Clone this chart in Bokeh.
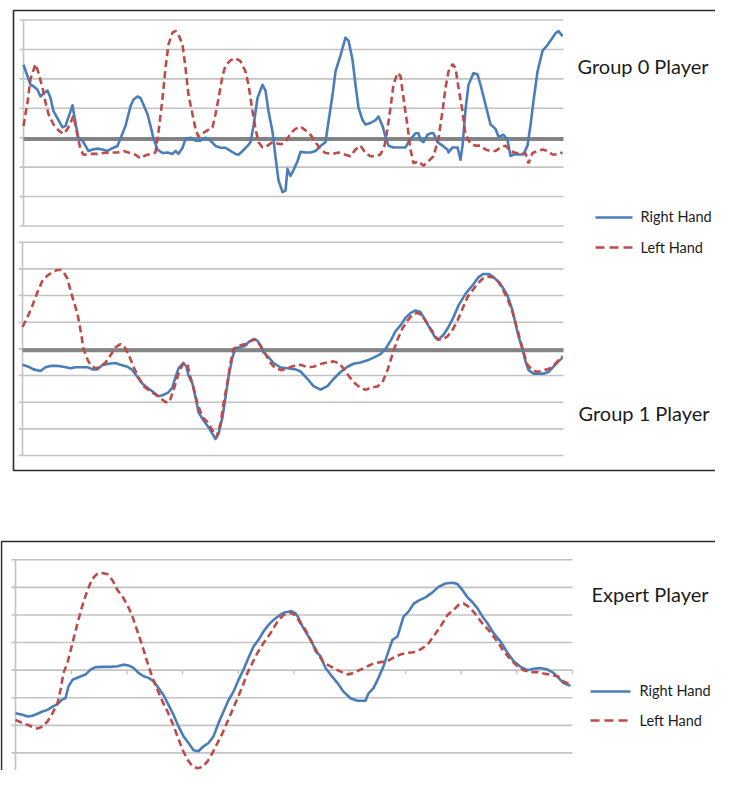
from bokeh.plotting import figure
from bokeh.models import Range1d
from bokeh.embed import file_html
from bokeh.resources import INLINE
from bokeh.core.properties import value

# ---------------- data (sample index, value in gridline units) ----------------
g0_right_t = [0, 7, 10, 14, 17, 20, 24, 27, 30, 35, 39, 42, 45, 49, 52, 55, 59, 62, 65, 69, 74, 79, 84, 90, 94, 97,
              102, 107, 110, 114, 117, 120, 124, 127, 130, 134, 139, 144, 149, 152, 155, 159, 162, 167, 172, 177,
              182, 187, 192, 197, 202, 207, 212, 215, 219, 224, 227, 230, 234, 239, 242, 245, 249, 252, 255, 259,
              262, 264, 267, 270, 274, 277, 282, 287, 292, 297, 302, 305, 309, 312, 317, 322, 325, 329, 332, 335,
              339, 342, 347, 352, 355, 359, 362, 365, 370, 377, 382, 385, 389, 392, 395, 397, 400, 404, 407, 410,
              414, 419, 424, 425, 429, 434, 437, 439, 442, 445, 450, 454, 457, 462, 467, 472, 475, 480, 484, 487,
              490, 495, 500, 504, 507, 510, 514, 519, 524, 529, 532, 535, 539]
g0_right_v = [2.48, 1.8, 1.75, 1.63, 1.4, 1.5, 1.6, 1.35, 0.9, 0.6, 0.35, 0.4, 0.7, 1.1, 0.5, -0.03, -0.1, -0.28,
              -0.45, -0.4, -0.37, -0.4, -0.45, -0.34, -0.28, -0.03, 0.4, 1.07, 1.3, 1.4, 1.35, 1.12, 0.8, 0.4, -0.03,
              -0.4, -0.52, -0.5, -0.55, -0.45, -0.55, -0.34, -0.04, 0.0, -0.1, -0.1, 0.0, -0.1, -0.28, -0.34, -0.34,
              -0.45, -0.55, -0.58, -0.45, -0.28, -0.15, 0.4, 1.35, 1.8, 1.6, 0.9, 0.2, -0.65, -1.45, -1.85, -1.8,
              -1.06, -1.3, -1.1, -0.8, -0.48, -0.5, -0.5, -0.45, -0.28, -0.15, 0.55, 1.45, 2.25, 2.8, 3.4, 3.3, 2.65,
              1.8, 1.02, 0.6, 0.45, 0.5, 0.6, 0.72, 0.4, 0.03, -0.27, -0.33, -0.33, -0.33, -0.15, 0.03, 0.15, 0.15,
              -0.08, -0.15, 0.1, 0.15, 0.15, -0.15, -0.27, -0.4, -0.5, -0.33, -0.33, -0.75, -0.27, 0.95, 1.8, 2.2,
              2.15, 1.8, 1.13, 0.45, 0.3, 0.03, 0.1, -0.08, -0.62, -0.57, -0.57, -0.57, -0.27, 0.42, 1.25, 2.25,
              2.95, 3.15, 3.4, 3.55, 3.62, 3.45]

g0_left_t = [0, 4, 7, 12, 15, 19, 22, 25, 30, 35, 40, 44, 47, 50, 54, 57, 60, 67, 74, 80, 87, 94, 100, 107, 112, 117,
             122, 127, 132, 135, 139, 142, 145, 149, 152, 155, 159, 162, 165, 169, 172, 175, 179, 184, 189, 192, 195,
             199, 202, 207, 212, 217, 222, 225, 229, 232, 235, 239, 244, 249, 254, 258, 262, 267, 272, 277, 282, 287,
             292, 297, 302, 309, 315, 322, 327, 332, 337, 342, 347, 352, 357, 361, 364, 367, 370, 374, 377, 380, 384,
             387, 390, 395, 400, 405, 410, 415, 419, 422, 425, 429, 432, 435, 439, 442, 447, 452, 457, 462, 467, 472,
             477, 482, 487, 492, 497, 502, 505, 509, 514, 519, 524, 529, 534, 539]
g0_left_v = [0.4, 1.2, 2.0, 2.5, 2.2, 1.7, 1.2, 0.8, 0.45, 0.25, 0.13, 0.3, 0.5, 0.75, 0.08, -0.4, -0.58, -0.55, -0.55,
             -0.52, -0.5, -0.5, -0.45, -0.52, -0.58, -0.7, -0.6, -0.55, -0.5, 0.2, 1.33, 2.37, 3.17, 3.57, 3.63, 3.5,
             3.17, 2.37, 1.45, 0.8, 0.3, 0.03, 0.15, 0.25, 0.35, 0.8, 1.33, 2.1, 2.45, 2.63, 2.7, 2.6, 2.25, 1.8, 0.9,
             0.3, -0.15, -0.33, -0.27, -0.15, -0.2, -0.22, -0.15, 0.15, 0.3, 0.38, 0.25, 0.1, -0.15, -0.4, -0.52,
             -0.55, -0.5, -0.58, -0.63, -0.4, -0.27, -0.52, -0.63, -0.63, -0.57, -0.27, 0.3, 1.02, 1.8, 2.2, 2.1,
             1.35, 0.4, -0.4, -0.87, -0.8, -0.95, -0.8, -0.63, -0.02, 0.9, 1.7, 2.25, 2.5, 2.37, 1.7, 0.9, 0.1, -0.2,
             -0.27, -0.27, -0.4, -0.45, -0.45, -0.33, -0.27, -0.45, -0.52, -0.52, -0.52, -0.87, -0.52, -0.45, -0.4,
             -0.45, -0.57, -0.57, -0.5]

g1_right_t = [0, 6, 11, 18, 23, 28, 35, 41, 48, 53, 60, 65, 70, 75, 80, 86, 93, 98, 105, 110, 115, 120, 125, 131,
              136, 141, 146, 150, 153, 156, 161, 164, 166, 170, 173, 176, 181, 186, 190, 193, 196, 200, 203, 206,
              210, 213, 218, 223, 226, 231, 235, 238, 241, 246, 251, 258, 265, 273, 278, 285, 291, 298, 305, 311,
              318, 325, 331, 338, 345, 351, 358, 363, 368, 373, 378, 383, 388, 393, 398, 403, 408, 413, 416, 421,
              426, 431, 436, 443, 450, 456, 461, 466, 471, 478, 485, 490, 493, 496, 500, 503, 506, 511, 516, 521,
              526, 531, 536, 540]
g1_right_v = [-0.6, -0.67, -0.77, -0.83, -0.69, -0.64, -0.64, -0.67, -0.73, -0.69, -0.69, -0.69, -0.77, -0.77, -0.6,
              -0.56, -0.53, -0.6, -0.67, -0.8, -1.06, -1.31, -1.46, -1.63, -1.78, -1.73, -1.63, -1.44, -1.06, -0.73,
              -0.53, -0.67, -1.0, -1.31, -1.81, -2.38, -2.69, -2.94, -3.19, -3.38, -3.19, -2.56, -1.81, -1.06,
              -0.31, 0.03, 0.06, 0.12, 0.25, 0.37, 0.31, 0.12, -0.13, -0.31, -0.53, -0.7, -0.73, -0.77, -0.85,
              -1.13, -1.4, -1.53, -1.4, -1.13, -0.87, -0.67, -0.56, -0.51, -0.43, -0.33, -0.2, 0.0, 0.3, 0.66,
              0.88, 1.16, 1.34, 1.44, 1.38, 1.06, 0.72, 0.41, 0.35, 0.53, 0.82, 1.19, 1.63, 2.06, 2.38, 2.69,
              2.81, 2.81, 2.69, 2.44, 2.0, 1.44, 0.94, 0.47, 0.0, -0.47, -0.8, -0.93, -0.93, -0.93, -0.87, -0.67,
              -0.47, -0.33]

g1_left_t = [0, 5, 10, 15, 20, 25, 30, 35, 38, 41, 45, 48, 51, 55, 58, 61, 65, 68, 73, 78, 83, 88, 93, 98, 102, 106,
             111, 116, 121, 128, 135, 141, 145, 148, 151, 156, 161, 165, 168, 171, 175, 180, 185, 190, 194, 198, 201,
             205, 208, 211, 216, 223, 228, 233, 238, 243, 248, 253, 259, 265, 271, 278, 285, 291, 298, 305, 311, 316,
             321, 326, 331, 338, 343, 348, 355, 360, 365, 370, 375, 380, 385, 390, 395, 400, 405, 410, 415, 420, 425,
             430, 435, 440, 445, 450, 455, 460, 465, 470, 475, 480, 485, 490, 495, 500, 505, 510, 515, 520, 525, 530,
             535, 540]
g1_left_v = [0.82, 1.19, 1.63, 2.13, 2.56, 2.75, 2.88, 2.96, 2.96, 2.88, 2.63, 2.19, 1.81, 1.31, 0.71, 0.0, -0.4, -0.6,
             -0.73, -0.69, -0.51, -0.24, 0.06, 0.18, 0.06, -0.2, -0.67, -1.07, -1.4, -1.6, -1.76, -1.94, -2.03, -1.88,
             -1.54, -0.93, -0.53, -0.6, -1.07, -1.46, -2.06, -2.56, -2.75, -3.06, -3.31, -2.81, -2.06, -1.25, -0.53,
             0.0, 0.12, 0.18, 0.29, 0.35, 0.12, -0.2, -0.53, -0.73, -0.8, -0.73, -0.64, -0.6, -0.69, -0.67, -0.57,
             -0.51, -0.47, -0.53, -0.73, -1.0, -1.25, -1.46, -1.54, -1.46, -1.41, -1.25, -0.8, -0.2, 0.35, 0.77, 1.06,
             1.29, 1.35, 1.24, 0.94, 0.65, 0.35, 0.35, 0.47, 0.71, 1.06, 1.5, 1.94, 2.19, 2.44, 2.63, 2.71, 2.69,
             2.56, 2.25, 1.88, 1.38, 0.71, 0.0, -0.6, -0.8, -0.87, -0.8, -0.77, -0.67, -0.47, -0.27]

ex_right_t = [0, 7, 12, 17, 22, 27, 32, 37, 42, 47, 50, 53, 57, 63, 70, 75, 80, 87, 95, 102, 108, 113, 118, 123, 128,
              133, 138, 143, 148, 153, 158, 163, 168, 173, 178, 183, 188, 193, 198, 203, 208, 213, 218, 223, 228,
              233, 238, 243, 248, 253, 258, 263, 268, 273, 276, 280, 283, 287, 292, 297, 300, 305, 310, 315, 322,
              328, 335, 342, 350, 353, 358, 363, 368, 373, 377, 382, 385, 388, 393, 398, 403, 410, 417, 423, 430,
              437, 442, 447, 452, 457, 462, 467, 472, 478, 485, 492, 498, 505, 512, 518, 525, 532, 538, 543, 548, 555]
ex_right_v = [-1.56, -1.62, -1.68, -1.65, -1.58, -1.5, -1.44, -1.32, -1.23, -1.06, -1.02, -0.59, -0.35, -0.26, -0.16,
              0.02, 0.11, 0.12, 0.12, 0.14, 0.2, 0.17, 0.08, -0.1, -0.22, -0.28, -0.4, -0.65, -0.9, -1.26, -1.62,
              -2.04, -2.4, -2.64, -2.9, -2.94, -2.76, -2.64, -2.4, -1.92, -1.5, -1.09, -0.78, -0.35, 0.02, 0.45, 0.86,
              1.1, 1.4, 1.64, 1.82, 1.96, 2.08, 2.12, 2.14, 2.06, 1.9, 1.58, 1.28, 0.98, 0.69, 0.51, 0.08, -0.16,
              -0.47, -0.78, -1.02, -1.11, -1.11, -0.84, -0.65, -0.28, 0.14, 0.69, 1.1, 1.22, 1.58, 1.94, 2.12, 2.4,
              2.52, 2.64, 2.82, 3.02, 3.14, 3.17, 3.12, 2.9, 2.64, 2.46, 2.24, 1.94, 1.7, 1.34, 1.04, 0.63, 0.33,
              0.12, 0.0, 0.05, 0.08, 0.02, -0.1, -0.28, -0.47, -0.57]

ex_left_t = [0, 7, 12, 17, 22, 27, 32, 37, 42, 45, 48, 52, 57, 62, 67, 72, 77, 82, 87, 92, 97, 102, 107, 112, 117, 122,
             127, 132, 137, 142, 147, 152, 157, 162, 167, 172, 177, 182, 187, 192, 197, 202, 207, 212, 217, 222, 227,
             232, 237, 242, 248, 255, 262, 268, 272, 275, 280, 285, 290, 295, 302, 308, 315, 322, 328, 333, 338, 345,
             352, 358, 365, 372, 378, 385, 392, 398, 405, 412, 418, 425, 432, 438, 443, 448, 453, 458, 463, 468, 473,
             478, 483, 488, 495, 502, 508, 515, 522, 528, 535, 542, 548, 555]
ex_left_v = [-1.8, -1.92, -1.98, -2.06, -2.12, -2.04, -1.86, -1.56, -1.2, -0.72, -0.1, 0.27, 0.98, 1.7, 2.36, 2.9, 3.32,
             3.5, 3.52, 3.48, 3.26, 2.9, 2.66, 2.36, 1.94, 1.4, 0.86, 0.27, -0.28, -0.72, -1.14, -1.5, -1.92, -2.4,
             -2.88, -3.25, -3.48, -3.56, -3.5, -3.31, -3.0, -2.64, -2.28, -1.86, -1.44, -1.02, -0.59, -0.1, 0.27,
             0.63, 0.98, 1.34, 1.76, 2.0, 2.04, 2.08, 2.0, 1.7, 1.46, 1.1, 0.63, 0.27, 0.14, 0.0, -0.1, -0.16, -0.1,
             0.02, 0.14, 0.24, 0.29, 0.33, 0.45, 0.57, 0.63, 0.65, 0.75, 0.92, 1.22, 1.58, 2.0, 2.18, 2.36, 2.42,
             2.3, 2.12, 1.88, 1.64, 1.46, 1.22, 0.98, 0.69, 0.39, 0.14, 0.0, -0.07, -0.07, -0.12, -0.16, -0.22, -0.41,
             -0.53]

titles = ["Group 0 Player", "Group 1 Player", "Expert Player"]
series_names = ["Right Hand", "Left Hand"]

# ---------------- styles ----------------
W, H = 715, 770
BLUE = "#4A7EBB"
RED = "#BE4B48"
GRID = "#C3C3C3"
ZERO = "#848484"
TXT = "#1c1c1c"
BORDER = "#2b2b2b"
FONT = value("Lato")

p = figure(width=W, height=H, output_backend="svg", toolbar_location=None,
           x_range=Range1d(0, W), y_range=Range1d(H, 0),
           x_axis_type=None, y_axis_type=None, min_border=0)
p.outline_line_color = None
p.background_fill_color = "white"
p.border_fill_color = "white"


def add_chart(name, left, right, top, bottom, t_max, v_top, v_bot):
    """Register ranges so that t in [0,t_max] spans pixels left..right and
    v_top / v_bot sit at pixel rows top / bottom."""
    kx = t_max / (right - left)
    ky = (v_top - v_bot) / (bottom - top)
    xr = Range1d(-left * kx, t_max + (W - right) * kx)
    yr = Range1d(v_bot - (H - bottom) * ky, v_top + top * ky)
    p.extra_x_ranges = {**p.extra_x_ranges, name: xr}
    p.extra_y_ranges = {**p.extra_y_ranges, name: yr}
    return kx, ky


def draw_chart(name, geom, t_max, v_top, v_bot, rt, rv, lt, lv, zero_line, x_ticks):
    kx, ky = add_chart(name, *geom, t_max, v_top, v_bot)
    ticks = list(range(v_bot, v_top + 1))
    n = len(ticks)
    kw = dict(x_range_name=name, y_range_name=name)
    p.segment(x0=[-4 * kx] * n, x1=[t_max] * n, y0=ticks, y1=ticks,
              line_color=GRID, line_width=1.6, **kw)
    p.segment(x0=[0], x1=[0], y0=[v_bot], y1=[v_top], line_color=GRID, line_width=1.6, **kw)
    if zero_line:
        p.segment(x0=[0], x1=[t_max], y0=[-1.3 * ky], y1=[-1.3 * ky],
                  line_color=ZERO, line_width=4, **kw)
    if x_ticks:
        xs = [t_max * k / 10 for k in range(1, 11)]
        p.segment(x0=xs, x1=xs, y0=[0] * 10, y1=[-4 * ky] * 10,
                  line_color=GRID, line_width=1.4, **kw)
    p.line(rt, rv, line_color=BLUE, line_width=2.6, line_join="round", **kw)
    p.line(lt, lv, line_color=RED, line_width=2.6, line_dash="7 4", **kw)


# geometry: (left px, right px, top gridline px, bottom gridline px)
draw_chart("g0", (23, 563, 19.5, 225.5), 540, 4, -3, g0_right_t, g0_right_v, g0_left_t, g0_left_v, True, False)
draw_chart("g1", (22, 563, 241.7, 455), 541, 4, -4, g1_right_t, g1_right_v, g1_left_t, g1_left_v, True, False)
draw_chart("ex", (15, 572, 559.3, 780), 557, 4, -4, ex_right_t, ex_right_v, ex_left_t, ex_left_v, False, True)

# frames around the two panels
p.quad(left=[13, 1], right=[760, 760], top=[10, 541], bottom=[470, 820],
       fill_color=None, line_color=BORDER, line_width=1.6)

# titles
p.text(x=[577, 578, 591], y=[65, 412, 593], text=titles,
       text_font=FONT, text_font_size="20px", text_color=TXT, text_baseline="middle")

# legends
leg_x0 = [595, 595, 590, 590]
leg_x1 = [632, 632, 630, 630]
leg_y = [217, 247, 691, 720]
p.segment(x0=leg_x0[0::2], x1=leg_x1[0::2], y0=leg_y[0::2], y1=leg_y[0::2], line_color=BLUE, line_width=2.6)
p.segment(x0=leg_x0[1::2], x1=leg_x1[1::2], y0=leg_y[1::2], y1=leg_y[1::2], line_color=RED, line_width=2.6,
          line_dash="9 5")
p.text(x=[640, 640, 639, 639], y=[216, 247, 690, 720],
       text=series_names * 2, text_font=FONT, text_font_size="14.5px", text_color=TXT,
       text_baseline="middle")

open("out.html", "w").write(file_html(p, INLINE))
